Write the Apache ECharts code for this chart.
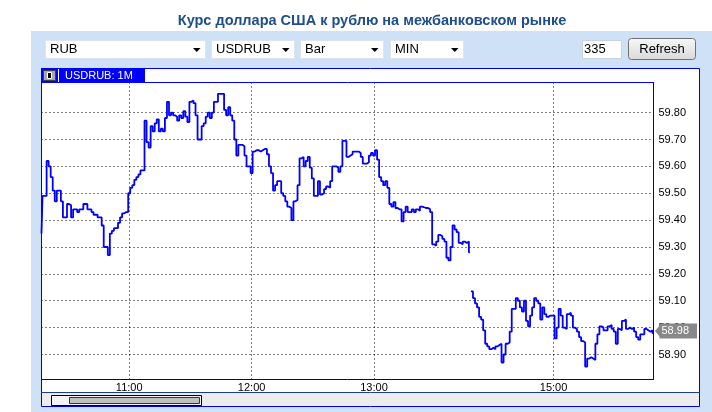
<!DOCTYPE html>
<html>
<head>
<meta charset="utf-8">
<title>USDRUB</title>
<script src="https://cdn.jsdelivr.net/npm/echarts@6/dist/echarts.min.js"></script>
<style>
html, body { margin: 0; padding: 0; background: #fff; }
#chart { width: 712px; height: 412px; }
</style>
</head>
<body>
<div id="chart"></div>
<script>
// минутные бары, две сессии с разрывом между ними
const sessions = [['10:17', '13:47'], ['14:20', '15:49']];
const hourLabels = ['11:00', '12:00', '13:00', '15:00'];
const priceTicks = [58.9, 59.0, 59.1, 59.2, 59.3, 59.4, 59.5, 59.6, 59.7, 59.8];

const valuesAM = [
    59.35, 59.49, 59.49, 59.62, 59.60, 59.56, 59.51, 59.47, 59.51, 59.51,
    59.47, 59.41, 59.41, 59.46, 59.455, 59.41, 59.44, 59.44, 59.43, 59.44,
    59.44, 59.46, 59.46, 59.44, 59.44, 59.43, 59.42, 59.42, 59.41, 59.41,
    59.38, 59.30, 59.30, 59.27, 59.35, 59.36, 59.37, 59.37, 59.39, 59.41,
    59.425, 59.43, 59.43, 59.50, 59.52, 59.53, 59.55, 59.56, 59.57, 59.585,
    59.585, 59.77, 59.69, 59.67, 59.75, 59.73, 59.76, 59.775, 59.73, 59.74,
    59.73, 59.78, 59.84, 59.79, 59.80, 59.79, 59.785, 59.77, 59.79, 59.78,
    59.805, 59.785, 59.765, 59.84, 59.845, 59.835, 59.79, 59.70, 59.70, 59.75,
    59.76, 59.785, 59.80, 59.78, 59.80, 59.84, 59.84, 59.87, 59.87, 59.87,
    59.81, 59.79, 59.82, 59.79, 59.77, 59.70, 59.64, 59.68, 59.68, 59.675,
    59.64, 59.60, 59.60, 59.575, 59.655, 59.66, 59.66, 59.655, 59.66, 59.665,
    59.665, 59.645, 59.60, 59.575, 59.51, 59.53, 59.545, 59.545, 59.50, 59.49,
    59.47, 59.45, 59.445, 59.40, 59.47, 59.475, 59.53, 59.63, 59.635, 59.60,
    59.62, 59.635, 59.595, 59.555, 59.49, 59.49, 59.545, 59.495, 59.50, 59.515,
    59.525, 59.52, 59.545, 59.60, 59.60, 59.595, 59.58, 59.60, 59.695, 59.695,
    59.635, 59.64, 59.645, 59.655, 59.655, 59.655, 59.65, 59.635, 59.61, 59.61,
    59.615, 59.64, 59.65, 59.64, 59.66, 59.625, 59.56, 59.545, 59.53, 59.545,
    59.52, 59.46, 59.45, 59.467, 59.445, 59.44, 59.44, 59.395, 59.43, 59.45,
    59.43, 59.43, 59.44, 59.43, 59.44, 59.435, 59.45, 59.448, 59.445, 59.445,
    59.44, 59.43, 59.31, 59.305, 59.32, 59.345, 59.34, 59.33, 59.32, 59.26,
    59.25, 59.30, 59.38, 59.365, 59.355, 59.315, 59.31, 59.32, 59.315, 59.32,
    59.28
];
const valuesPM = [
    59.135, 59.11, 59.09, 59.075, 59.04, 59.03, 58.99, 58.94, 58.93, 58.92,
    58.925, 58.92, 58.93, 58.935, 58.94, 58.87, 58.90, 58.94, 58.945, 58.985,
    59.07, 59.07, 59.11, 59.10, 59.075, 59.06, 59.10, 59.025, 59.005, 59.045,
    59.075, 59.11, 59.10, 59.09, 59.03, 59.075, 59.05, 59.04, 59.045, 59.045,
    59.045, 58.96, 59.00, 59.07, 59.045, 59.00, 58.995, 59.05, 59.055, 59.045,
    59.00, 58.995, 58.985, 58.965, 58.95, 58.945, 58.855, 58.885, 58.89, 58.885,
    58.88, 58.94, 58.975, 59.005, 59.00, 58.99, 58.99, 59.005, 59.01, 58.995,
    58.985, 58.94, 58.995, 58.99, 59.025, 59.03, 58.995, 59.00, 58.995, 59.00,
    58.985, 58.965, 58.955, 58.975, 58.975, 58.995, 58.99, 58.985, 58.99, 58.98
];
const lastPrice = 58.98;

const FONT = '"Liberation Sans", Arial, sans-serif';

function minutes(from, to) {
    const res = [];
    let [h, m] = from.split(':').map(Number);
    const end = to.split(':').map(Number);
    while (h < end[0] || (h === end[0] && m <= end[1])) {
        res.push(String(h).padStart(2, '0') + ':' + String(m).padStart(2, '0'));
        m++;
        if (m === 60) { m = 0; h++; }
    }
    return res;
}
const amTimes = minutes(sessions[0][0], sessions[0][1]);
const pmTimes = minutes(sessions[1][0], sessions[1][1]);
const xData = amTimes.concat(pmTimes);
const isHour = (idx, val) => hourLabels.includes(val);

function text(x, y, str, opt) {
    return {
        type: 'text', x: x, y: y, z: 100,
        style: Object.assign({
            text: str, font: '13px ' + FONT, fill: '#000',
            verticalAlign: 'middle', textVerticalAlign: 'middle'
        }, opt || {})
    };
}

// выпадающие списки над графиком
function selectBox(x, w, label) {
    return [
        { type: 'rect', z: 100, shape: { x: x + 0.5, y: 40.5, width: w, height: 18 },
          style: { fill: '#fff', stroke: '#dde4ec', lineWidth: 1 } },
        text(x + 5, 49.5, label),
        { type: 'polygon', z: 100,
          shape: { points: [[x + w - 12, 48], [x + w - 4.5, 48], [x + w - 8.25, 52]] },
          style: { fill: '#000' } }
    ];
}

const graphics = [
    // фон панели и рамка виджета
    { type: 'rect', z: -100, shape: { x: 31, y: 31, width: 681, height: 381 }, style: { fill: '#cfe1f7' } },
    { type: 'rect', z: -99, shape: { x: 41.5, y: 68.5, width: 658, height: 338 },
      style: { fill: '#fff', stroke: '#0000ee', lineWidth: 1 } },
    text(372, 21, 'Курс доллара США к рублю на межбанковском рынке',
        { font: 'bold 14.5px ' + FONT, fill: '#1f4e8c', align: 'center', textAlign: 'center' }),
    ...selectBox(45, 160, 'RUB'),
    ...selectBox(211, 83, 'USDRUB'),
    ...selectBox(300, 83, 'Bar'),
    ...selectBox(390, 73, 'MIN'),
    { type: 'rect', z: 100, shape: { x: 582.5, y: 40.5, width: 39, height: 18 },
      style: { fill: '#fff', stroke: '#c9d2dc', lineWidth: 1 } },
    text(584, 49.5, '335'),
    { type: 'rect', z: 100, shape: { x: 628.5, y: 38.5, width: 67, height: 21, r: 3 },
      style: {
          fill: new echarts.graphic.LinearGradient(0, 0, 0, 1, [
              { offset: 0, color: '#f8f8f8' }, { offset: 1, color: '#d9d9d9' }
          ]),
          stroke: '#707070', lineWidth: 1
      } },
    text(662, 49.5, 'Refresh', { align: 'center', textAlign: 'center' }),
    // заголовок окна графика
    { type: 'rect', z: 100, shape: { x: 41, y: 68, width: 104, height: 14 }, style: { fill: '#0000ff' } },
    { type: 'rect', z: 101, shape: { x: 43.5, y: 70.5, width: 12, height: 10 },
      style: { fill: '#a8a8a8', stroke: '#404040', lineWidth: 1 } },
    { type: 'rect', z: 102, shape: { x: 47.5, y: 72.5, width: 4, height: 6 },
      style: { fill: '#000', stroke: '#fff', lineWidth: 1 } },
    { type: 'line', z: 101, shape: { x1: 58.5, y1: 69, x2: 58.5, y2: 82 }, style: { stroke: '#fff', lineWidth: 1 } },
    text(65, 75.5, 'USDRUB: 1M', { font: '11px ' + FONT, fill: '#fff' }),
    // рамка области графика
    { type: 'line', z: 100, shape: { x1: 41, y1: 82.5, x2: 654, y2: 82.5 }, style: { stroke: '#0000ff', lineWidth: 1 } },
    { type: 'line', z: 100, shape: { x1: 41.5, y1: 82, x2: 41.5, y2: 380 }, style: { stroke: '#0000ee', lineWidth: 1 } },
    { type: 'line', z: 100, shape: { x1: 653.5, y1: 82, x2: 653.5, y2: 380 }, style: { stroke: '#00009a', lineWidth: 1 } },
    { type: 'line', z: 100, shape: { x1: 41, y1: 379.5, x2: 654, y2: 379.5 }, style: { stroke: '#00009a', lineWidth: 1 } },
    // полоса прокрутки
    { type: 'line', z: 100, shape: { x1: 41, y1: 392.5, x2: 700, y2: 392.5 }, style: { stroke: '#1a3d8f', lineWidth: 1 } },
    { type: 'rect', z: 100, shape: { x: 42, y: 393, width: 657, height: 13 }, style: { fill: '#ececec' } },
    { type: 'rect', z: 101, shape: { x: 51.5, y: 395.5, width: 150, height: 10 },
      style: { fill: '#f4f4f4', stroke: '#000', lineWidth: 1 } },
    { type: 'rect', z: 102, shape: { x: 69.5, y: 397.5, width: 130, height: 6 },
      style: { fill: '#c0c0c0', stroke: '#333', lineWidth: 1 } }
];

const dotted = { color: '#000', type: [1, 3], width: 1 };
const lineStyle = { color: '#0000ff', width: 1.8 };

const chart = echarts.init(document.getElementById('chart'));
chart.setOption({
    animation: false,
    graphic: graphics,
    grid: { left: 41.5, top: 82.5, width: 612, height: 297, containLabel: false },
    xAxis: {
        type: 'category',
        data: xData,
        boundaryGap: false,
        axisLine: { show: false },
        axisTick: { show: false },
        axisLabel: { interval: isHour, color: '#000', fontSize: 11, fontFamily: FONT, margin: 3 },
        splitLine: { show: true, interval: isHour, lineStyle: dotted }
    },
    yAxis: {
        type: 'value',
        position: 'right',
        min: 58.807,
        max: 59.912,
        axisLine: { show: false },
        axisTick: { show: false, customValues: priceTicks },
        axisLabel: {
            customValues: priceTicks,
            formatter: v => v.toFixed(2),
            color: '#000', fontSize: 11, fontFamily: FONT, margin: 5
        },
        splitLine: { lineStyle: dotted }
    },
    series: [
        {
            type: 'line', step: 'middle', data: valuesAM,
            showSymbol: false, lineStyle: lineStyle, z: 5
        },
        {
            type: 'line', step: 'middle',
            data: Array(amTimes.length).fill('-').concat(valuesPM),
            showSymbol: false, lineStyle: lineStyle, z: 5,
            // метка последней цены на оси
            markLine: {
                silent: true, symbol: 'none', animation: false,
                lineStyle: { color: 'rgba(0,0,0,0)' },
                data: [{ yAxis: lastPrice }],
                label: {
                    position: 'end', distance: 6, offset: [0, -2],
                    formatter: () => lastPrice.toFixed(2),
                    backgroundColor: '#888', color: '#fff', fontSize: 11, fontFamily: FONT,
                    padding: [2, 8, 1, 2], lineHeight: 12
                }
            },
            markPoint: {
                silent: true, animation: false,
                symbol: 'triangle', symbolSize: [12, 5], symbolRotate: 90, symbolOffset: [4, -2],
                itemStyle: { color: '#888' },
                label: { show: false },
                data: [{ coord: [xData[xData.length - 1], lastPrice] }]
            }
        }
    ]
});
</script>
</body>
</html>
